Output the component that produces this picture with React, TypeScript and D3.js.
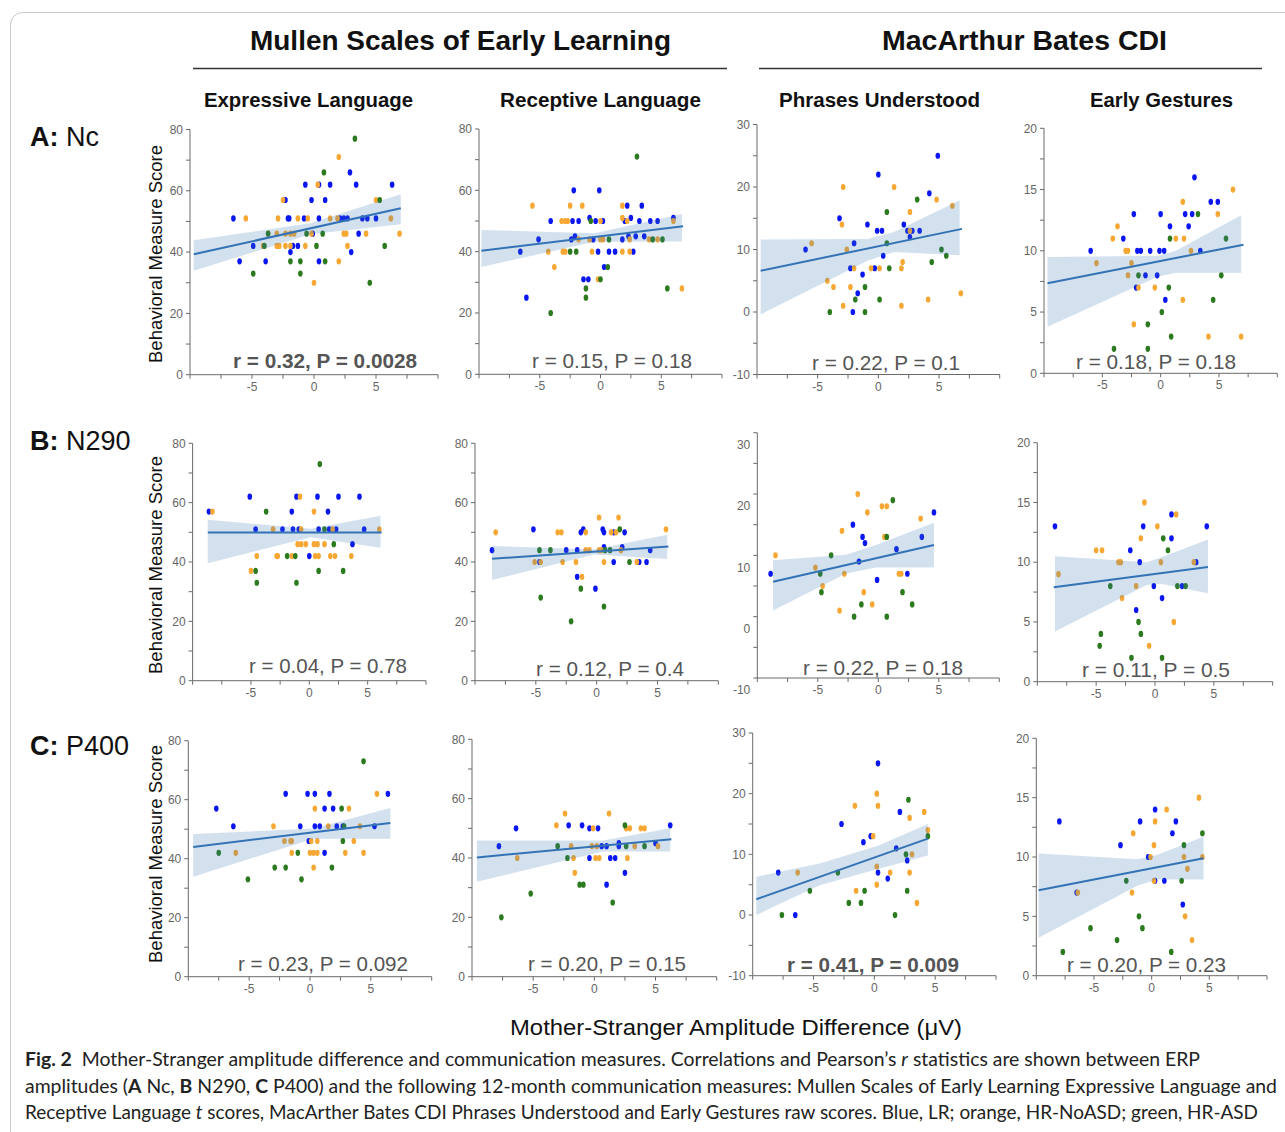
import React from "react";
import * as d3 from "d3";

type P = [number, number];

const rowLetters = ["A:", "B:", "C:"];
const rowNames = ["Nc", "N290", "P400"];
const scaleTitles = ["Mullen Scales of Early Learning", "MacArthur Bates CDI"];
const measures = ["Expressive Language", "Receptive Language", "Phrases Understood", "Early Gestures"];
// LR, HR-NoASD, HR-ASD
const groupColors = ["#0a16f2", "#f7a733", "#2c7a1e"];

const xDomain = [-10, 10];
const xLabelTicks = [-5, 0, 5];
const xMinorStep = 2.5;
const yDomains = [[0, 80], [0, 80], [-10, 30], [0, 20]];
const yLabelTicks = [[0, 20, 40, 60, 80], [0, 20, 40, 60, 80], [-10, 0, 10, 20, 30], [0, 5, 10, 15, 20]];
const yMinorStep = [10, 10, 5, 2.5];

const stats = [
  "r = 0.32, P = 0.0028", "r = 0.15, P = 0.18", "r = 0.22, P = 0.1", "r = 0.18, P = 0.18",
  "r = 0.04, P = 0.78", "r = 0.12, P = 0.4", "r = 0.22, P = 0.18", "r = 0.11, P = 0.5",
  "r = 0.23, P = 0.092", "r = 0.20, P = 0.15", "r = 0.41, P = 0.009", "r = 0.20, P = 0.23",
];
const boldStats = [true, false, false, false, false, false, false, false, false, false, true, false];

// points: [LR, HR-NoASD, HR-ASD], each [amplitude diff, score]
const ncExpressive: P[][] = [
  [[-6.5,51],[-6.0,37],[-4.9,42],[-3.9,37],[-2.3,57],[-2.1,51],[-2.0,51],[-1.9,40],[-1.7,42],[-1.3,42],[-0.8,51],[-0.7,62],[-0.2,57],[-0.1,46],[0.4,62],[0.4,51],[0.4,37],[0.9,57],[1.3,62],[2.1,51],[2.4,51],[2.7,51],[2.9,66],[3.0,40],[3.4,62],[3.6,46],[3.9,51],[4.3,51],[5.0,51],[6.3,62]],
  [[-5.5,51],[-4.1,42],[-3.7,46],[-3.0,46],[-2.9,51],[-3.0,42],[-2.8,42],[-2.5,57],[-2.3,46],[-2.3,42],[-1.9,46],[-1.9,42],[-1.6,46],[-1.3,51],[-0.7,42],[-0.5,51],[-0.2,46],[0.0,30],[0.3,62],[1.3,51],[2.0,71],[1.9,51],[2.0,37],[2.4,46],[2.6,46],[2.7,42],[4.2,46],[5.0,57],[6.2,51],[6.9,46]],
  [[-4.9,33],[-4.0,42],[-3.7,46],[-1.9,37],[-1.1,37],[-1.1,33],[-0.6,46],[0.2,42],[0.7,46],[0.8,66],[0.9,37],[3.3,77],[4.5,30],[5.3,57],[5.7,42]],
];
const ncReceptive: P[][] = [
  [[-6.1,25],[-6.6,40],[-5.1,44],[-4.1,50],[-2.4,44],[-2.3,50],[-2.2,60],[-2.1,45],[-1.8,50],[-1.4,31],[-1.0,31],[-0.9,51],[-0.6,44],[-0.4,50],[-0.2,40],[-0.1,60],[0.2,50],[0.3,35],[0.7,40],[1.2,40],[1.8,44],[2.0,50],[2.2,55],[2.3,45],[2.5,51],[2.7,40],[2.9,45],[3.2,50],[3.4,55],[3.6,45],[4.1,50],[4.7,50],[6.0,51]],
  [[-5.6,55],[-4.3,40],[-3.8,35],[-3.2,50],[-2.9,50],[-2.7,50],[-3.1,40],[-2.9,40],[-2.5,55],[-1.8,44],[-1.5,55],[-0.9,44],[-0.7,40],[-0.2,31],[0.0,50],[0.0,44],[0.2,44],[1.8,55],[1.8,51],[1.8,40],[2.2,50],[2.4,40],[2.4,44],[4.0,44],[4.7,44],[6.0,50],[6.7,28]],
  [[-4.1,20],[-2.5,40],[-2.0,40],[-1.2,28],[-1.2,25],[-0.8,50],[0.0,31],[0.6,35],[0.7,44],[3.0,71],[4.3,44],[5.1,44],[5.5,28]],
];
const ncPhrases: P[][] = [
  [[-6.0,10],[-3.2,15],[-2.3,7],[-2.1,0],[-2.0,11],[-1.7,3],[-1.3,6],[-0.9,14],[-0.3,7],[-0.1,13],[0.0,22],[0.3,13],[0.4,9],[2.1,14],[2.4,13],[2.6,12],[2.8,13],[3.4,13],[4.2,19],[4.9,25]],
  [[-5.5,11],[-4.2,5],[-3.7,4],[-3.0,14],[-2.9,20],[-2.9,1],[-2.6,10],[-2.3,4],[-2.0,7],[-0.6,7],[0.1,7],[1.3,20],[1.9,1],[1.9,7],[2.0,8],[2.6,16],[2.6,13],[4.1,2],[4.8,18],[6.1,17],[6.8,3]],
  [[-4.0,0],[-1.9,2],[-1.1,4],[-1.1,0],[0.1,2],[0.7,16],[0.7,11],[0.9,7],[3.2,18],[4.4,8],[5.2,10],[5.6,9]],
];
const ncGestures: P[][] = [
  [[-6.0,10],[-3.2,11],[-2.3,13],[-2.1,7],[-2.0,10],[-1.7,10],[-1.3,8],[-0.9,10],[-0.3,8],[-0.1,10],[0.0,13],[0.3,10],[0.4,6],[0.8,12],[2.1,13],[2.4,12],[2.7,13],[2.9,16],[3.4,10],[4.3,14],[4.9,14]],
  [[-5.5,9],[-4.1,11],[-3.7,12],[-3.0,10],[-2.8,10],[-2.8,8],[-2.5,9],[-2.3,4],[-1.9,7],[-0.5,7],[1.3,11],[1.9,14],[2.0,11],[1.9,6],[2.6,10],[4.1,3],[4.9,13],[6.2,15],[6.9,3]],
  [[-4.0,2],[-1.9,8],[-1.1,4],[-1.1,2],[0.1,5],[0.7,7],[0.8,11],[0.9,3],[3.2,13],[4.5,6],[5.2,8],[5.6,11]],
];
const n290Expressive: P[][] = [
  [[-8.6,57],[-5.1,62],[-4.6,51],[-2.3,51],[-1.5,57],[-1.4,51],[-1.1,62],[-0.9,51],[0.0,42],[0.7,62],[0.8,51],[1.6,57],[1.7,51],[2.3,51],[2.5,62],[3.7,46],[4.3,62],[4.7,51]],
  [[-8.3,57],[-5.0,37],[-4.5,42],[-3.1,51],[-2.8,42],[-2.7,42],[-1.5,42],[-1.0,46],[-0.8,62],[-0.7,51],[-0.7,46],[-0.3,46],[0.4,57],[0.4,46],[0.5,42],[0.7,46],[0.8,42],[1.3,46],[1.8,42],[2.0,51],[2.2,42],[3.6,42],[6.0,51]],
  [[-4.6,37],[-4.5,33],[-3.7,57],[-1.9,42],[-1.2,42],[-1.1,33],[0.8,37],[0.9,73],[1.3,51],[2.1,46],[2.9,37]],
];
const n290Receptive: P[][] = [
  [[-8.6,44],[-5.2,51],[-4.7,40],[-2.5,44],[-1.6,44],[-1.6,35],[-1.3,50],[-1.1,51],[-0.1,31],[0.5,51],[0.6,50],[0.6,45],[1.4,40],[1.4,50],[2.1,45],[2.3,50],[3.5,40],[4.1,40],[4.4,44]],
  [[-8.3,50],[-5.1,40],[-4.6,40],[-3.2,50],[-2.9,50],[-2.8,40],[-1.7,40],[-1.2,35],[-0.9,50],[-0.9,44],[-0.6,44],[0.2,55],[0.2,44],[0.4,44],[0.6,40],[1.2,50],[1.6,50],[1.8,55],[2.0,44],[3.3,40],[5.7,51]],
  [[-4.7,44],[-4.6,28],[-3.8,44],[-2.1,20],[-1.3,31],[0.6,25],[0.7,44],[1.1,44],[1.9,51],[2.7,40]],
];
const n290Phrases: P[][] = [
  [[-8.9,7],[-2.1,15],[-1.3,13],[-1.1,12],[-1.6,9],[-0.1,6],[1.5,11],[2.4,7],[3.6,13],[4.6,17]],
  [[-8.5,10],[-5.2,8],[-4.6,5],[-3.0,14],[-3.2,1],[-2.8,7],[-1.7,20],[-1.2,4],[-0.9,17],[-0.5,2],[0.3,18],[0.5,13],[0.7,18],[1.7,7],[1.9,7],[3.5,16]],
  [[-4.8,7],[-4.7,4],[-3.9,10],[-2.0,0],[-1.4,2],[0.7,0],[0.7,13],[1.2,19],[2.0,4],[2.8,2]],
];
const n290Gestures: P[][] = [
  [[-8.5,13],[-2.1,11],[-1.3,10],[-1.0,13],[-1.6,6],[-0.1,8],[0.6,7],[1.4,14],[1.4,12],[2.3,8],[3.5,10],[4.4,13]],
  [[-8.2,9],[-5.0,11],[-4.5,11],[-3.1,10],[-2.9,10],[-2.8,7],[-1.6,8],[-1.2,12],[-0.9,15],[-0.5,3],[0.2,13],[0.5,10],[1.6,5],[1.8,14],[3.3,10]],
  [[-4.7,3],[-4.6,4],[-3.8,8],[-2.0,2],[-1.4,5],[-1.2,4],[0.6,2],[0.7,12],[1.1,11],[1.9,8],[2.6,8]],
];
const p400Expressive: P[][] = [
  [[-7.7,57],[-6.3,51],[-2.0,62],[-0.8,51],[-0.2,62],[-0.1,46],[0.4,62],[0.4,51],[0.8,51],[1.2,42],[1.2,57],[1.6,62],[1.9,57],[2.2,51],[2.7,51],[5.3,51],[6.4,62]],
  [[-6.1,42],[-3.0,51],[-2.1,46],[-1.6,46],[-1.5,46],[-1.5,42],[0.0,42],[0.1,46],[0.3,37],[0.3,42],[0.4,57],[0.6,42],[0.6,46],[1.5,51],[2.9,42],[3.2,57],[3.6,46],[4.1,51],[4.4,42],[5.5,62]],
  [[-7.5,42],[-5.1,33],[-2.9,37],[-2.0,37],[-1.0,42],[-0.7,33],[1.8,37],[2.6,57],[2.7,46],[2.8,51],[4.4,73]],
];
const p400Receptive: P[][] = [
  [[-7.8,44],[-6.4,50],[-2.1,51],[-1.0,51],[-0.4,50],[-0.4,40],[0.3,50],[0.6,44],[1.0,44],[1.0,31],[1.3,40],[1.7,40],[2.0,45],[2.0,44],[2.5,35],[5.0,45],[6.2,51]],
  [[-6.3,40],[-3.1,51],[-2.4,55],[-1.9,44],[-1.7,40],[-1.6,35],[-0.2,44],[-0.1,50],[0.1,40],[0.2,44],[0.4,40],[1.2,55],[2.6,50],[2.9,50],[2.7,40],[3.3,44],[3.8,50],[4.1,50],[5.2,44]],
  [[-7.6,20],[-5.2,28],[-3.0,44],[-2.2,40],[-1.2,31],[-0.9,31],[1.5,25],[2.5,51],[2.6,44],[4.1,44]],
];
const p400Phrases: P[][] = [
  [[-7.9,7],[-6.5,0],[-2.7,15],[-0.9,12],[-0.3,13],[0.3,25],[0.3,7],[1.1,6],[1.8,11],[2.1,17],[2.7,9]],
  [[-6.3,7],[-1.6,18],[-1.5,4],[-0.1,13],[0.2,20],[0.3,18],[0.2,8],[0.2,5],[1.3,7],[2.9,16],[2.9,7],[3.1,10],[3.5,2],[4.1,17],[4.4,14]],
  [[-7.6,0],[-5.3,4],[-3.0,7],[-2.1,2],[-1.1,2],[-0.8,4],[1.7,0],[2.6,10],[2.7,4],[2.8,19],[4.4,13]],
];
const p400Gestures: P[][] = [
  [[-8.0,13],[-6.5,7],[-2.7,11],[-1.0,13],[-0.3,10],[0.3,14],[0.3,8],[1.1,8],[1.8,12],[2.1,13],[2.7,6]],
  [[-6.4,7],[-1.7,7],[-1.6,12],[-0.1,10],[0.2,11],[0.2,8],[0.3,13],[1.3,14],[2.8,10],[2.9,5],[3.1,9],[3.5,3],[4.1,15],[4.4,10]],
  [[-7.7,2],[-5.3,4],[-3.0,3],[-2.2,8],[-1.1,5],[-0.8,4],[1.7,2],[2.6,8],[2.8,11],[4.4,12]],
];

const panels = [
  ncExpressive, ncReceptive, ncPhrases, ncGestures,
  n290Expressive, n290Receptive, n290Phrases, n290Gestures,
  p400Expressive, p400Receptive, p400Phrases, p400Gestures,
];

// regression line end points [x1, y1, x2, y2]
const fits = [
  [-9.7, 39.3, 7.0, 54.3], [-9.8, 40.3, 6.8, 48.3], [-9.7, 6.6, 6.9, 13.3], [-9.7, 7.35, 7.1, 10.5],
  [-8.7, 49.9, 6.2, 49.9], [-8.6, 41.1, 5.9, 45.2], [-8.7, 5.7, 4.6, 11.7], [-8.6, 7.9, 4.5, 9.6],
  [-9.6, 44.0, 6.6, 52.1], [-9.6, 40.2, 6.3, 46.3], [-9.7, 2.6, 4.4, 12.6], [-9.8, 7.2, 4.5, 9.9],
];

// confidence band [x, lower, upper]
const bands = [
  [[-9.7, 33.9, 43.9], [-0.3, 45.8, 49.4], [7.0, 49.1, 58.9]],
  [[-9.8, 35.0, 47.1], [-0.5, 43.2, 46.0], [6.7, 43.3, 52.3]],
  [[-9.7, -0.4, 11.6], [-0.9, 8.2, 11.7], [1.3, 9.6, 12.8], [6.7, 9.1, 17.9]],
  [[-9.7, 3.8, 9.5], [-0.2, 7.9, 9.6], [1.3, 8.2, 10.0], [6.9, 8.2, 12.9]],
  [[-8.7, 39.6, 54.2], [0.1, 48.3, 51.2], [6.1, 44.8, 55.6]],
  [[-8.6, 33.9, 45.4], [-0.2, 42.5, 44.2], [5.8, 41.0, 49.2]],
  [[-8.7, 1.0, 9.2], [-2.7, 7.0, 10.1], [-0.2, 8.0, 11.7], [4.6, 8.0, 15.3]],
  [[-8.5, 4.2, 10.5], [-0.7, 8.1, 10.0], [0.5, 8.2, 10.4], [4.5, 7.4, 11.9]],
  [[-9.6, 33.9, 48.4], [0.3, 46.8, 50.2], [6.6, 46.8, 57.2]],
  [[-9.6, 32.0, 45.9], [0.7, 42.2, 45.9], [6.2, 42.2, 50.0]],
  [[-9.7, 0.0, 6.3], [-4.5, 4.9, 8.5], [0.3, 7.6, 11.4], [4.4, 9.8, 15.0]],
  [[-9.8, 3.2, 10.3], [-1.2, 7.6, 9.8], [0.5, 8.1, 10.2], [4.5, 8.1, 11.7]],
];

// layout: [x at -10, x at 10, y top, y bottom]
const boxes = [
  [190, 438, 129.5, 374.7], [479, 722, 129, 374.3], [757, 999.7, 124.5, 374.5], [1044, 1277.3, 128.3, 373.3],
  [192.6, 426, 443.3, 680.7], [475, 718.3, 443.3, 680.7], [757.3, 999.3, 432.7, 678], [1037.3, 1272.7, 442.7, 681.7],
  [188.3, 431.7, 740.7, 976.7], [472, 716.7, 739.3, 976.7], [752.7, 996, 733, 975.7], [1036.3, 1267, 738.3, 975.7],
];
// stat text: [left, baseline, width]
const statBoxes = [
  [233, 368, 184], [532, 368, 160], [812, 370, 148], [1076, 369, 160],
  [249, 673, 158], [536, 676, 148], [803, 675, 160], [1082, 677, 148],
  [238, 971, 170], [528, 971, 158], [787, 972, 172], [1067, 972, 159],
];
const tickLabelShift = [0, 0, 0, 0, 0, 0, 12, 0, 0, 0, 0, 0];

const sans = "'Liberation Sans', Arial, Helvetica, sans-serif";

function Panel({ i }: { i: number }) {
  const m = i % 4;
  const [x0, x1, yTop, yBot] = boxes[i];
  const x = d3.scaleLinear().domain(xDomain).range([x0, x1]);
  const y = d3.scaleLinear().domain(yDomains[m]).range([yBot, yTop]);
  const yMinor = d3.range(yDomains[m][0], yDomains[m][1] + 0.001, yMinorStep[m]);
  const xMinor = d3.range(xDomain[0], xDomain[1] + 0.001, xMinorStep);
  const area = d3.area<number[]>().x((d) => x(d[0])).y0((d) => y(d[1])).y1((d) => y(d[2]));
  const f = fits[i];
  const [sx, sy, sw] = statBoxes[i];
  const shift = tickLabelShift[i];
  const axisColor = "#6a6a6a";
  return (
    <g>
      {panels[i].map((pts, g) =>
        pts.map((p, k) => (
          <ellipse key={g + "-" + k} cx={x(p[0])} cy={y(p[1])} rx={2.3} ry={3.1} fill={groupColors[g]} />
        ))
      )}
      <path d={area(bands[i]) || ""} fill="#3778b8" fillOpacity={0.22} />
      <line x1={x(f[0])} y1={y(f[1])} x2={x(f[2])} y2={y(f[3])} stroke="#3373b5" strokeWidth={2} />
      {/* y axis */}
      <line x1={x0} x2={x0} y1={yTop} y2={yBot} stroke={axisColor} />
      {yMinor.map((t) => (
        <line key={"yt" + t} x1={x0 - 4} x2={x0} y1={y(t)} y2={y(t)} stroke={axisColor} />
      ))}
      {yLabelTicks[m].map((t) => (
        <text key={"yl" + t} x={x0 - 7} y={y(t) + shift} dy="0.35em" textAnchor="end" fontSize={12} fill="#666" fontFamily={sans}>
          {t}
        </text>
      ))}
      {/* x axis */}
      <line x1={x0} x2={x1} y1={yBot} y2={yBot} stroke={axisColor} />
      {xMinor.map((t) => (
        <line key={"xt" + t} x1={x(t)} x2={x(t)} y1={yBot} y2={yBot + 4} stroke={axisColor} />
      ))}
      {xLabelTicks.map((t) => (
        <text key={"xl" + t} x={x(t)} y={yBot + 16} textAnchor="middle" fontSize={12} fill="#666" fontFamily={sans}>
          {t}
        </text>
      ))}
      <text x={sx} y={sy} fontSize={21} fill="#555" fontWeight={boldStats[i] ? "bold" : "normal"}
        fontFamily={sans} textLength={sw} lengthAdjust="spacingAndGlyphs">
        {stats[i]}
      </text>
    </g>
  );
}

export default function App() {
  const W = 1285;
  const H = 1132;
  return (
    <div style={{ position: "absolute", left: 0, top: 0 }}>
      <svg width={W} height={H} style={{ display: "block", background: "#fff" }}>
        <rect x={10.5} y={12.5} width={1300} height={1140} rx={12} fill="#fff" stroke="#c8c8c8" />
        {/* scale titles */}
        <text x={250} y={50} fontSize={27} fontWeight="bold" fontFamily={sans} fill="#111" textLength={421} lengthAdjust="spacingAndGlyphs">
          {scaleTitles[0]}
        </text>
        <line x1={193} x2={727} y1={68.5} y2={68.5} stroke="#333" strokeWidth={1.5} />
        <text x={882} y={50} fontSize={27} fontWeight="bold" fontFamily={sans} fill="#111" textLength={285} lengthAdjust="spacingAndGlyphs">
          {scaleTitles[1]}
        </text>
        <line x1={759} x2={1262} y1={68.5} y2={68.5} stroke="#333" strokeWidth={1.5} />
        {/* measure headers */}
        {[[204, 209], [500, 201], [779, 201], [1090, 143]].map(([hx, hw], j) => (
          <text key={"h" + j} x={hx} y={107} fontSize={20} fontWeight="bold" fontFamily={sans} fill="#111" textLength={hw} lengthAdjust="spacingAndGlyphs">
            {measures[j]}
          </text>
        ))}
        {/* row labels */}
        {[146, 450, 755].map((ry, r) => (
          <text key={"r" + r} x={30} y={ry} fontSize={27} fontFamily={sans} fill="#111">
            <tspan fontWeight="bold">{rowLetters[r]}</tspan>
            <tspan> {rowNames[r]}</tspan>
          </text>
        ))}
        {/* y axis labels */}
        {[254, 565, 854].map((cy, r) => (
          <text key={"yl" + r} transform={`translate(162,${cy}) rotate(-90)`} textAnchor="middle" fontSize={19} fontFamily={sans} fill="#111"
            textLength={218} lengthAdjust="spacingAndGlyphs">
            Behavioral Measure Score
          </text>
        ))}
        {d3.range(12).map((i) => (
          <Panel key={i} i={i} />
        ))}
        <text x={510} y={1035} fontSize={22} fontFamily={sans} fill="#111" textLength={452} lengthAdjust="spacingAndGlyphs">
          Mother-Stranger Amplitude Difference (μV)
        </text>
        {/* caption */}
        <g fontFamily="Lato, 'Open Sans', sans-serif" fontSize={19} fill="#222">
          <text x={25} y={1066} textLength={1175} lengthAdjust="spacingAndGlyphs">
            <tspan fontWeight="bold">Fig. 2</tspan>
            <tspan>{"\u00a0\u00a0Mother-Stranger amplitude difference and communication measures. Correlations and Pearson\u2019s "}</tspan>
            <tspan fontStyle="italic">r</tspan>
            <tspan> statistics are shown between ERP</tspan>
          </text>
          <text x={25} y={1093} textLength={1252} lengthAdjust="spacingAndGlyphs">
            <tspan>amplitudes (</tspan>
            <tspan fontWeight="bold">A</tspan>
            <tspan> Nc, </tspan>
            <tspan fontWeight="bold">B</tspan>
            <tspan> N290, </tspan>
            <tspan fontWeight="bold">C</tspan>
            <tspan> P400) and the following 12-month communication measures: Mullen Scales of Early Learning Expressive Language and</tspan>
          </text>
          <text x={25} y={1119} textLength={1233} lengthAdjust="spacingAndGlyphs">
            <tspan>Receptive Language </tspan>
            <tspan fontStyle="italic">t</tspan>
            <tspan> scores, MacArther Bates CDI Phrases Understood and Early Gestures raw scores. Blue, LR; orange, HR-NoASD; green, HR-ASD</tspan>
          </text>
        </g>
      </svg>
    </div>
  );
}
